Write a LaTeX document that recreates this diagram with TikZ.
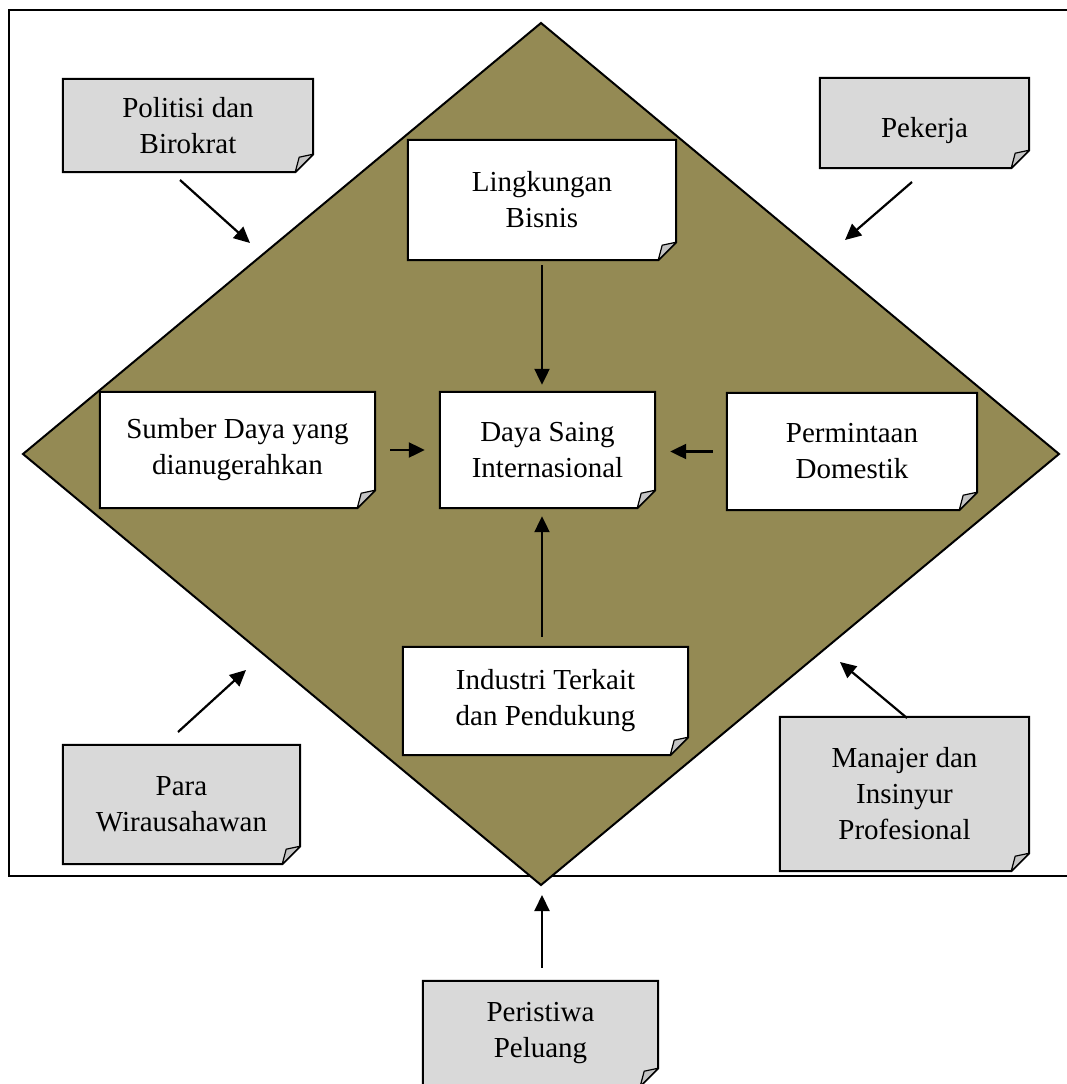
\documentclass[tikz,border=0pt]{standalone}
\usepackage{fontspec}
\setmainfont{Liberation Serif}
\usetikzlibrary{arrows.meta,calc}
\pgfdeclarelayer{back}
\pgfdeclarelayer{mid}
\pgfsetlayers{back,mid,main}
\definecolor{olivefill}{HTML}{948A54}
\definecolor{notegray}{HTML}{D9D9D9}
\definecolor{foldgray}{HTML}{C4C4C4}
\tikzset{
  txt/.style={align=center, font=\fontsize{29}{36}\selectfont, inner sep=0pt},
  outline/.style={line width=2pt, draw=black, line join=miter},
  arr/.style={line width=2.2pt, -{Triangle[length=16pt,width=15pt]}},
}
% [#1 extra options] #2 name, #3 x1, #4 y1, #5 x2, #6 y2, #7 fill, #8 text
\newcommand\notebox[8][]{%
  \node[txt, minimum width={#5-#3}, minimum height={#6-#4}, #1] (#2) at ({(#3+#5)/2},{(#4+#6)/2}) {#8};
  \begin{pgfonlayer}{mid}
    \filldraw[outline, fill=#7] (#2.north west) -- (#2.north east) -- ([yshift=18pt]#2.south east) -- ([xshift=-18pt]#2.south east) -- (#2.south west) -- cycle;
    \filldraw[line width=1.2pt, fill=foldgray, line join=round] ([yshift=18pt]#2.south east) -- ([xshift=-18pt]#2.south east) -- ([xshift=-14pt,yshift=15pt]#2.south east) -- cycle;
  \end{pgfonlayer}
}
\begin{document}
\begin{tikzpicture}[x=1pt,y=-1pt]
\useasboundingbox (0,0) rectangle (1066,1084);
\begin{pgfonlayer}{back}
  \draw[line width=2pt] (1070,10) -- (9,10) -- (9,876) -- (1070,876);
  \filldraw[line width=2pt, fill=olivefill, line join=miter] (541,23) -- (1059,454) -- (541,885) -- (23,454) -- cycle;
\end{pgfonlayer}

\notebox{pol}{63}{79}{313}{172}{notegray}{Politisi dan\\Birokrat}
\notebox[text height=36pt]{pek}{820}{78}{1029}{168}{notegray}{Pekerja}
\notebox{ling}{408}{140}{676}{260}{white}{Lingkungan\\Bisnis}
\notebox{sum}{100}{392}{375}{508}{white}{Sumber Daya yang\\dianugerahkan}
\notebox{daya}{440}{392}{655}{508}{white}{Daya Saing\\Internasional}
\notebox{perm}{727}{393}{977}{510}{white}{Permintaan\\Domestik}
\notebox{ind}{403}{647}{688}{755}{white}{Industri Terkait\\dan Pendukung}
\notebox{para}{63}{745}{300}{864}{notegray}{Para\\Wirausahawan}
\notebox{man}{780}{717}{1029}{871}{notegray}{Manajer dan\\Insinyur\\Profesional}
\notebox{per}{423}{981}{658}{1086}{notegray}{Peristiwa\\Peluang}

% free ends of the outer arrows
\coordinate (polA) at (180,180);  \coordinate (polB) at (250,243);
\coordinate (pekA) at (912,182);  \coordinate (pekB) at (845,240);
\coordinate (paraA) at (178,732); \coordinate (paraB) at (246,670);
\coordinate (manA) at (907,718);  \coordinate (manB) at (840,662);
\coordinate (perB) at (542,895);

\draw[arr] (polA) -- (polB);
\draw[arr] (pekA) -- (pekB);
\draw[arr] (paraA) -- (paraB);
\draw[arr] (manA) -- (manB);
\draw[arr, shorten <=13pt] (per.north -| perB) -- (perB);

\draw[arr, shorten <=5pt, shorten >=7pt] (ling.south -| 542,0) -- (daya.north -| 542,0);
\draw[arr, shorten <=10pt, shorten >=8pt] (ind.north -| 542,0) -- (daya.south -| 542,0);
\draw[arr, shorten <=15pt, shorten >=15pt] (sum.east) -- (sum.east -| daya.west);
\draw[arr, shorten <=14pt, shorten >=15pt] (perm.west) -- (perm.west -| daya.east);
\end{tikzpicture}
\end{document}
